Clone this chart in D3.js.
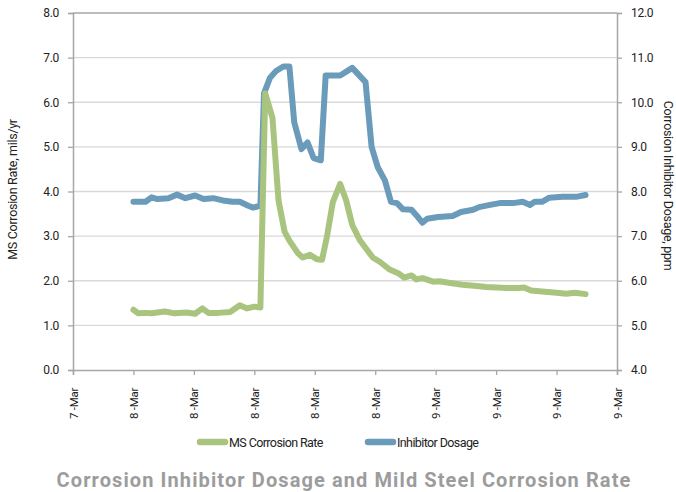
<!DOCTYPE html>
<html>
<head>
<meta charset="utf-8">
<script src="https://cdn.jsdelivr.net/npm/d3@7"></script>
<style>
  body { margin: 0; background: #fff; }
  svg text { font-family: Roboto, "Liberation Sans", sans-serif; fill: #222; }
</style>
</head>
<body>
<div id="chart"></div>
<script>
const width = 676;
const height = 492;
const margin = {top: 13, right: 59, bottom: 122, left: 73};

// hours after 8-Mar 00:00
const rateHours = [1.0, 1.4, 2.0, 2.5, 3.6, 4.4, 5.4, 6.1, 6.7, 7.2, 8.0, 9.0, 9.8, 10.4, 11.0, 11.5, 11.9, 12.5, 13.0, 13.5, 13.9, 14.6, 15.0, 15.6, 16.2, 16.6, 17.0, 17.5, 18.1, 18.6, 19.1, 19.7, 20.3, 20.8, 21.4, 22.2, 22.9, 23.4, 24.0, 24.4, 24.9, 25.8, 26.3, 27.2, 28.2, 29.4, 30.2, 31.9, 32.9, 33.3, 33.9, 34.8, 36.0, 36.8, 37.5, 38.4];
const rateValues = [1.35, 1.27, 1.28, 1.27, 1.31, 1.27, 1.29, 1.26, 1.38, 1.28, 1.28, 1.30, 1.45, 1.38, 1.42, 1.40, 6.2, 5.65, 3.8, 3.1, 2.9, 2.62, 2.52, 2.58, 2.48, 2.47, 2.98, 3.77, 4.17, 3.8, 3.25, 2.92, 2.7, 2.52, 2.42, 2.25, 2.17, 2.07, 2.12, 2.03, 2.06, 1.98, 1.99, 1.95, 1.91, 1.88, 1.86, 1.84, 1.84, 1.85, 1.78, 1.76, 1.73, 1.71, 1.73, 1.70];

const dosageHours = [1.0, 2.0, 2.5, 3.0, 3.9, 4.6, 5.3, 6.1, 6.8, 7.6, 8.4, 9.2, 9.8, 10.5, 10.9, 11.5, 11.8, 12.3, 12.8, 13.4, 13.9, 14.3, 14.9, 15.4, 15.9, 16.5, 16.9, 18.1, 19.1, 20.2, 20.7, 21.2, 21.8, 22.3, 22.8, 23.3, 24.0, 24.4, 24.9, 25.3, 26.2, 27.4, 28.1, 29.1, 29.6, 30.5, 31.3, 32.4, 33.2, 33.8, 34.2, 34.8, 35.4, 36.5, 37.6, 38.4];
const dosageValues = [7.77, 7.77, 7.87, 7.83, 7.85, 7.93, 7.85, 7.91, 7.83, 7.85, 7.8, 7.77, 7.77, 7.68, 7.64, 7.68, 10.2, 10.55, 10.7, 10.8, 10.8, 9.55, 8.95, 9.1, 8.75, 8.7, 10.6, 10.6, 10.77, 10.45, 9.0, 8.55, 8.25, 7.77, 7.74, 7.6, 7.59, 7.47, 7.3, 7.39, 7.43, 7.45, 7.54, 7.59, 7.65, 7.7, 7.74, 7.74, 7.77, 7.7, 7.77, 7.77, 7.86, 7.88, 7.88, 7.92];

const seriesNames = ['MS Corrosion Rate', 'Inhibitor Dosage'];
const leftTicks = [0, 1, 2, 3, 4, 5, 6, 7, 8];
const rightTicks = [4, 5, 6, 7, 8, 9, 10, 11, 12];

const green = '#a9c47f';
const blue = '#6b9bbb';
const axisColor = '#a6a6a6';

const base = new Date(2018, 2, 8, 0, 0);
const toDate = (h) => d3.timeMinute.offset(base, Math.round(h * 60));
const xStart = d3.timeHour.offset(base, -4); // 7-Mar 20:00
const xTicks = d3.range(10).map((i) => d3.timeHour.offset(xStart, 5 * i));

const x = d3.scaleTime()
  .domain([xStart, xTicks[9]])
  .range([margin.left, width - margin.right]);
const yLeft = d3.scaleLinear().domain([0, 8]).range([height - margin.bottom, margin.top]);
const yRight = d3.scaleLinear().domain([4, 12]).range([height - margin.bottom, margin.top]);

const svg = d3.select('#chart').append('svg')
  .attr('width', width)
  .attr('height', height);

// grid
svg.append('g')
  .selectAll('line')
  .data(leftTicks.slice(1))
  .enter()
  .append('line')
  .attr('x1', margin.left)
  .attr('x2', width - margin.right)
  .attr('y1', (d) => yLeft(d))
  .attr('y2', (d) => yLeft(d))
  .style('stroke', (d) => d === 8 ? axisColor : '#d9d9d9')
  .style('stroke-width', 1.3);

function styleAxis(g) {
  g.select('.domain').style('stroke', axisColor).style('stroke-width', 1.5);
  g.selectAll('.tick line').style('stroke', axisColor).style('stroke-width', 1.3);
  g.selectAll('.tick text').style('font-size', '12px').style('letter-spacing', '-0.3px').style('fill', '#222');
}

svg.append('g')
  .attr('transform', `translate(${margin.left},0)`)
  .call(d3.axisLeft(yLeft).tickValues(leftTicks).tickFormat(d3.format('.1f')).tickSizeOuter(0).tickSize(5).tickPadding(9))
  .call(styleAxis);

svg.append('g')
  .attr('transform', `translate(${width - margin.right},0)`)
  .call(d3.axisRight(yRight).tickValues(rightTicks).tickFormat(d3.format('.1f')).tickSizeOuter(0).tickSize(5).tickPadding(9))
  .call(styleAxis);

const xAxis = svg.append('g')
  .attr('transform', `translate(0,${height - margin.bottom})`)
  .call(d3.axisBottom(x).tickValues(xTicks).tickFormat(d3.timeFormat('%-d -%b')).tickSizeOuter(0).tickSize(5))
  .call(styleAxis);

xAxis.selectAll('.tick text')
  .style('font-size', '11.5px')
  .attr('transform', 'rotate(-90)')
  .attr('text-anchor', 'end')
  .attr('x', -18)
  .attr('y', 0)
  .attr('dy', '0.35em');

// lines
const rateLine = d3.line()
  .x((d, i) => x(toDate(rateHours[i])))
  .y((d) => yLeft(d));
const dosageLine = d3.line()
  .x((d, i) => x(toDate(dosageHours[i])))
  .y((d) => yRight(d));

svg.append('path')
  .datum(dosageValues)
  .attr('d', dosageLine)
  .style('fill', 'none')
  .style('stroke', blue)
  .style('stroke-width', 6)
  .style('stroke-linejoin', 'round')
  .style('stroke-linecap', 'round');

svg.append('path')
  .datum(rateValues)
  .attr('d', rateLine)
  .style('fill', 'none')
  .style('stroke', green)
  .style('stroke-width', 6)
  .style('stroke-linejoin', 'round')
  .style('stroke-linecap', 'round');

// axis titles
svg.append('text')
  .attr('transform', `translate(17,${(margin.top + height - margin.bottom) / 2 - 2}) rotate(-90)`)
  .attr('text-anchor', 'middle')
  .style('font-size', '12.5px')
  .style('letter-spacing', '-0.3px')
  .text('MS Corrosion Rate, mils/yr');

svg.append('text')
  .attr('transform', `translate(664,${(margin.top + height - margin.bottom) / 2 - 6}) rotate(90)`)
  .attr('text-anchor', 'middle')
  .style('font-size', '12.5px')
  .style('letter-spacing', '-0.3px')
  .text('Corrosion Inhibitor Dosage, ppm');

// legend
const legend = svg.append('g')
  .selectAll('g')
  .data(seriesNames)
  .enter()
  .append('g')
  .attr('transform', (d, i) => `translate(${i === 0 ? 200 : 368},442)`);

legend.append('line')
  .attr('x1', 0)
  .attr('x2', 25)
  .style('stroke', (d, i) => i === 0 ? green : blue)
  .style('stroke-width', 6.5)
  .style('stroke-linecap', 'round');

legend.append('text')
  .attr('x', 29)
  .attr('dy', '0.36em')
  .style('font-size', '12.5px')
  .style('letter-spacing', '-0.6px')
  .text((d) => d);

svg.append('text')
  .attr('x', 344)
  .attr('y', 487)
  .attr('text-anchor', 'middle')
  .style('font-weight', 'bold')
  .style('font-size', '20px')
  .style('letter-spacing', '1.1px')
  .style('fill', '#9c9c9c')
  .text('Corrosion Inhibitor Dosage and Mild Steel Corrosion Rate');
</script>
</body>
</html>
